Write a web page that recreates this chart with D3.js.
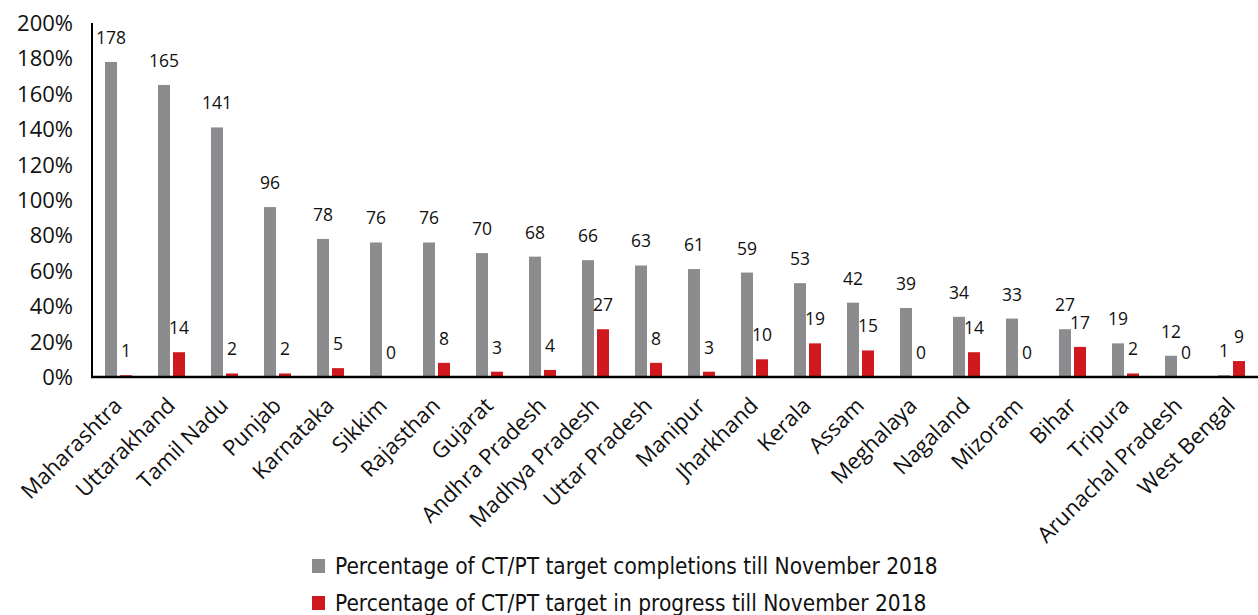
<!DOCTYPE html>
<html>
<head>
<meta charset="utf-8">
<script src="https://cdn.jsdelivr.net/npm/d3@7"></script>
<style>
  body { margin: 0; background: #fff; }
  svg { display: block; }
  .tick-label { font-family: "Open Sans", Lato, sans-serif; font-size: 22px; fill: #111; }
  .cat-label { font-family: "Open Sans", Lato, sans-serif; font-size: 22px; fill: #111; }
  .val-label { font-family: "Open Sans", Lato, sans-serif; font-size: 17.5px; fill: #111; }
  .legend { font-family: "Liberation Sans Narrow", "DejaVu Sans Condensed", sans-serif; font-size: 22.5px; fill: #111; }
</style>
</head>
<body>
<svg id="chart" width="1258" height="615"></svg>
<script>
// données
const states = ["Maharashtra", "Uttarakhand", "Tamil Nadu", "Punjab", "Karnataka", "Sikkim",
  "Rajasthan", "Gujarat", "Andhra Pradesh", "Madhya Pradesh", "Uttar Pradesh", "Manipur",
  "Jharkhand", "Kerala", "Assam", "Meghalaya", "Nagaland", "Mizoram", "Bihar", "Tripura",
  "Arunachal Pradesh", "West Bengal"];
const completed = [178, 165, 141, 96, 78, 76, 76, 70, 68, 66, 63, 61, 59, 53, 42, 39, 34, 33, 27, 19, 12, 1];
const inProgress = [1, 14, 2, 2, 5, 0, 8, 3, 4, 27, 8, 3, 10, 19, 15, 0, 14, 0, 17, 2, 0, 9];
const yTicks = [0, 20, 40, 60, 80, 100, 120, 140, 160, 180, 200];
const seriesNames = [
  "Percentage of CT/PT target completions till November 2018",
  "Percentage of CT/PT target in progress till November 2018"
];
const colors = ["#8c8c8e", "#d0191f"];

const svg = d3.select("#chart");
const margin = { left: 92, right: 0, top: 23, bottom: 238 };
const width = 1258, height = 615;

const x = d3.scaleBand()
  .domain(states)
  .range([margin.left, width - margin.right]);

const y = d3.scaleLinear()
  .domain([0, 200])
  .range([height - margin.bottom, margin.top]);

const barW = 12, gap = 3;
const offset = (x.bandwidth() - (2 * barW + gap)) / 2;

// barres + étiquettes de valeur
[completed, inProgress].forEach((vals, s) => {
  const g = svg.append("g");
  g.selectAll("rect")
    .data(states)
    .enter()
    .append("rect")
    .attr("x", (d) => x(d) + offset + s * (barW + gap))
    .attr("width", barW)
    .attr("y", (d, i) => y(vals[i]))
    .attr("height", (d, i) => y(0) - y(vals[i]))
    .attr("fill", colors[s]);

  g.selectAll("text")
    .data(states)
    .enter()
    .append("text")
    .attr("class", "val-label")
    .attr("x", (d) => x(d) + offset + s * (barW + gap) + barW / 2)
    .attr("y", (d, i) => y(vals[i]) - 18)
    .attr("text-anchor", "middle")
    .text((d, i) => vals[i]);
});

// axes
svg.append("line")
  .attr("x1", margin.left).attr("x2", margin.left)
  .attr("y1", y(200)).attr("y2", y(0))
  .attr("stroke", "#000").attr("stroke-width", 2);
svg.append("line")
  .attr("x1", margin.left - 1).attr("x2", width)
  .attr("y1", y(0)).attr("y2", y(0))
  .attr("stroke", "#000").attr("stroke-width", 2.5);

svg.selectAll("text.tick-label")
  .data(yTicks)
  .enter()
  .append("text")
  .attr("class", "tick-label")
  .attr("x", 73)
  .attr("y", (d) => y(d) + 8)
  .attr("text-anchor", "end")
  .text((d) => d + "%");

svg.selectAll("text.cat-label")
  .data(states)
  .enter()
  .append("text")
  .attr("class", "cat-label")
  .attr("text-anchor", "end")
  .attr("transform", (d) => `translate(${x(d) + x.bandwidth() / 2 + 5},${y(0) + 30}) rotate(-45)`)
  .text((d) => d);

// légende
const legend = svg.append("g").attr("transform", "translate(312,0)");
seriesNames.forEach((name, i) => {
  const ly = 567 + i * 37;
  legend.append("rect")
    .attr("x", 0).attr("y", ly - 8)
    .attr("width", 13).attr("height", 14)
    .attr("fill", colors[i]);
  legend.append("text")
    .attr("class", "legend")
    .attr("x", 23).attr("y", ly + 7)
    .text(name);
});
</script>
</body>
</html>
